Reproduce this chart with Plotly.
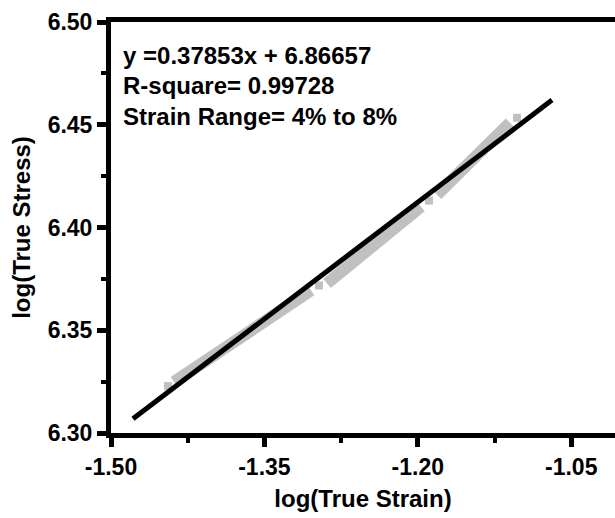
import plotly.graph_objects as go

# Gray data band (segments separated by None)
band_x = [-1.4384, -1.3044, None, -1.2888, -1.1969, None, -1.1812, -1.1099]
band_y = [6.3248, 6.3694, None, 6.3728, 6.4102, None, 6.4160, 6.4510]
# Isolated square points at segment starts / end
sq_x = [-1.4443, -1.2966, -1.1891, -1.1030]
sq_y = [6.3228, 6.3718, 6.4131, 6.4534]
# Linear fit line
fit_x = [-1.4785, -1.0688]
fit_y = [6.3069, 6.4620]

x_ticks = [-1.50, -1.35, -1.20, -1.05]
x_ticktext = ["-1.50", "-1.35", "-1.20", "-1.05"]
y_ticks = [6.30, 6.35, 6.40, 6.45, 6.50]
y_ticktext = ["6.30", "6.35", "6.40", "6.45", "6.50"]

ann_lines = ["y =0.37853x + 6.86657", "R-square= 0.99728", "Strain Range= 4% to 8%"]
ann_ypos = [0.9197, 0.8443, 0.7690]

FONT = "Liberation Sans, Arial, sans-serif"
GRAY = "#c0c0c0"

fig = go.Figure()
fig.add_trace(go.Scatter(x=band_x, y=band_y, mode="lines",
                         line=dict(color=GRAY, width=12), connectgaps=False,
                         showlegend=False, hoverinfo="skip"))
fig.add_trace(go.Scatter(x=sq_x, y=sq_y, mode="markers",
                         marker=dict(symbol="square", size=8, color=GRAY, line=dict(width=0)),
                         showlegend=False, hoverinfo="skip"))
fig.add_trace(go.Scatter(x=fit_x, y=fit_y, mode="lines",
                         line=dict(color="black", width=5),
                         showlegend=False, hoverinfo="skip"))

for txt, yp in zip(ann_lines, ann_ypos):
    fig.add_annotation(text=txt, xref="paper", yref="paper", x=0.020, y=yp,
                       xanchor="left", yanchor="middle", showarrow=False,
                       font=dict(family=FONT, size=24, color="black", weight="bold"))

axis_common = dict(showgrid=False, zeroline=False, showline=True, linecolor="black",
                   linewidth=5, ticks="outside", ticklen=9, tickwidth=5, tickcolor="black",
                   automargin=False,
                   tickfont=dict(family=FONT, size=23, color="black", weight="bold"))

fig.update_xaxes(range=[-1.5, -1.0072], tickvals=x_ticks, ticktext=x_ticktext, mirror=True,
                 minor=dict(tick0=-1.5, dtick=0.075, ticks="outside", ticklen=5, tickwidth=4,
                            tickcolor="black"),
                 title=dict(text="log(True Strain)", standoff=13,
                            font=dict(family=FONT, size=24, color="black", weight="bold")),
                 **axis_common)
fig.update_yaxes(range=[6.30, 6.50], tickvals=y_ticks, ticktext=y_ticktext,
                 minor=dict(tick0=6.30, dtick=0.025, ticks="outside", ticklen=5, tickwidth=4,
                            tickcolor="black"),
                 title=dict(text="log(True Stress)", standoff=12,
                            font=dict(family=FONT, size=24, color="black", weight="bold")),
                 **axis_common)

fig.update_layout(width=615, height=518, margin=dict(l=111, r=0, t=22, b=85, autoexpand=False),
                  plot_bgcolor="white", paper_bgcolor="white")

fig.write_html("out.html", config={"displayModeBar": False},
               post_script="document.body.style.margin='0';document.body.style.overflow='hidden';")
